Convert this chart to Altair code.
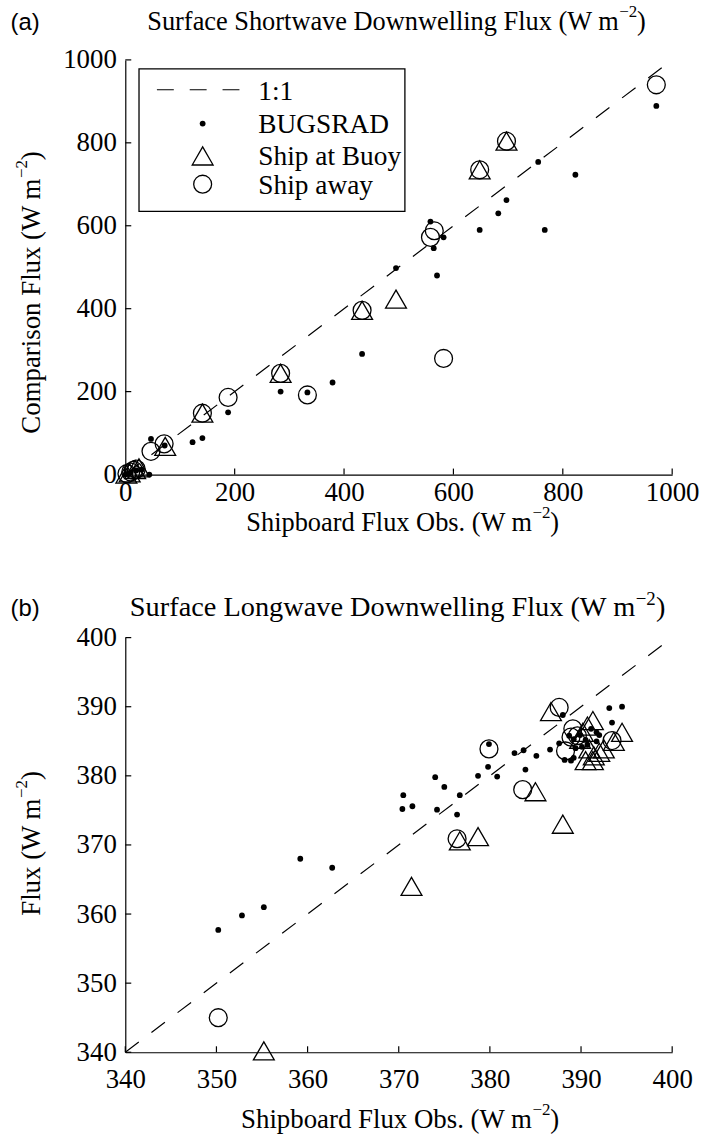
import altair as alt
import pandas as pd

# ---------------- Panel (a): shortwave ----------------
sw_dot_x = [971, 755, 823, 697, 682, 648, 767, 558, 582, 564, 570, 495, 433, 379, 333, 284, 188, 141, 123, 47, 44, 5, 20, 10, 72, 0, 30]
sw_dot_y = [889, 754, 723, 662, 630, 590, 590, 610, 572, 546, 480, 498, 291, 222, 198, 200, 150, 88, 78, 86, 0, 2, 10, 5, 70, 0, 12]
sw_tri_x = [697, 648, 495, 433, 284, 141, 73, 25, 18, 8, 2]
sw_tri_y = [804, 735, 423, 396, 244, 148, 68, 16, 12, 4, 1]
sw_cir_x = [971, 697, 648, 565, 558, 582, 433, 333, 284, 188, 141, 71, 47, 20, 10, 3, 15]
sw_cir_y = [940, 804, 735, 588, 572, 280, 396, 192, 244, 186, 148, 74, 56, 13, 6, 2, 10]
sw_ticks = [0, 200, 400, 600, 800, 1000]

# ---------------- Panel (b): longwave ----------------
lw_dot_x = [350.2, 352.8, 355.2, 359.2, 362.7, 370.5, 370.4, 371.5, 374.0, 375.0, 374.2, 376.7, 376.4,
            378.7, 379.8, 380.8, 379.9, 382.7, 383.7, 385.1, 383.9, 386.6, 388.0, 393.1, 394.5, 393.4,
            387.6, 388.2, 388.9, 388.7, 389.2, 389.9, 390.5, 391.1, 391.7, 392.0, 390.7, 389.4, 390.1,
            389.2, 391.7]
lw_dot_y = [357.7, 359.8, 361.0, 368.0, 366.7, 377.2, 375.2, 375.6, 379.8, 378.4, 375.1, 377.2, 374.4,
            380.0, 381.3, 379.9, 384.6, 383.3, 383.7, 382.9, 380.9, 383.8, 388.8, 389.8, 390.0, 387.7,
            384.7, 382.3, 382.2, 385.8, 385.3, 385.9, 385.2, 386.8, 386.3, 385.9, 384.5, 384.0, 384.2,
            382.6, 385.0]
lw_tri_x = [355.2, 371.4, 376.7, 378.7, 385.0, 388.0, 386.7, 391.3, 390.7, 394.5, 390.2, 390.9, 390.5,
            391.4, 392.0, 392.5, 391.3, 389.9, 393.6]
lw_tri_y = [340.2, 364.0, 370.6, 371.2, 377.7, 373.0, 389.3, 388.0, 387.2, 386.3, 386.3, 383.9, 382.2,
            382.9, 383.4, 383.9, 382.2, 385.3, 385.0]
lw_cir_x = [350.2, 376.4, 379.9, 383.6, 387.6, 389.1, 388.9, 388.3, 389.6, 393.4]
lw_cir_y = [345.0, 370.9, 383.9, 378.0, 389.9, 386.8, 385.6, 383.6, 385.8, 385.1]
lw_ticks = [340, 350, 360, 370, 380, 390, 400]

legend_labels = ["1:1", "BUGSRAD", "Ship at Buoy", "Ship away"]

SERIF = "Liberation Serif"
SANS = "Liberation Sans"
W, H = 550, 417
FS = 27
DASH = [17, 16]
DOT = 34
TRI = 441
CIR = 324


def text(t, x, y, size=FS, font=SERIF, align="left", angle=0, baseline="alphabetic"):
    kw = dict(align=align, baseline=baseline, font=font, fontSize=size, color="black")
    if angle:
        kw["angle"] = angle
    return alt.Chart(pd.DataFrame({"t": [t]})).mark_text(**kw).encode(
        text="t:N", x=alt.value(x), y=alt.value(y))


def sup_title_h(main, x_end, y, size, sup_size, raise_by, sup_w):
    # horizontal title: main text ending at x_end, superscript "-2", then ")"
    return [
        text(main, x_end, y, size=size, align="right"),
        text("\u22122", x_end + 0.5, y - raise_by, size=sup_size),
        text(")", x_end + 0.5 + sup_w, y, size=size),
    ]


def sup_title_v(main, x, y_end, size, sup_size, raise_by, sup_w):
    # vertical (rotated) title reading bottom to top, ending at y_end
    return [
        text(main, x, y_end, size=size, align="right", angle=270),
        text("\u22122", x - raise_by, y_end - 0.5, size=sup_size, angle=270),
        text(")", x, y_end - 0.5 - sup_w, size=size, angle=270),
    ]


def panel(dx, dy, tx, ty, cx, cy, ticks, tag, tag_y, title, ytitle, legend, xlab_pad, xt_y):
    lo, hi = ticks[0], ticks[-1]
    xs = alt.Scale(domain=[lo, hi], nice=False, zero=False)
    ys = alt.Scale(domain=[lo, hi], nice=False, zero=False)
    ax_common = dict(values=ticks, format="d", labelFont=SERIF, labelFontSize=FS, labelColor="black",
                     ticks=False, tickSize=0, grid=False, domain=True, domainColor="black",
                     domainWidth=1.2, title=None, labelFlush=False, labelOverlap=False)
    xa = alt.Axis(labelPadding=xlab_pad, **ax_common)
    ya = alt.Axis(labelPadding=9, **ax_common)

    one = alt.Chart(pd.DataFrame({"x": [lo, hi], "y": [lo, hi]})).mark_line(
        color="black", strokeWidth=1.2, strokeDash=DASH, clip=True).encode(
        x=alt.X("x:Q", scale=xs, axis=xa), y=alt.Y("y:Q", scale=ys, axis=ya))

    dots = alt.Chart(pd.DataFrame({"x": dx, "y": dy})).mark_circle(
        color="black", size=DOT, opacity=1).encode(x=alt.X("x:Q", scale=xs), y=alt.Y("y:Q", scale=ys))
    tris = alt.Chart(pd.DataFrame({"x": tx, "y": ty})).mark_point(
        shape="triangle-up", size=TRI, filled=False, color="black", strokeWidth=1.3, opacity=1).encode(
        x=alt.X("x:Q", scale=xs), y=alt.Y("y:Q", scale=ys))
    cirs = alt.Chart(pd.DataFrame({"x": cx, "y": cy})).mark_point(
        shape="circle", size=CIR, filled=False, color="black", strokeWidth=1.3, opacity=1).encode(
        x=alt.X("x:Q", scale=xs), y=alt.Y("y:Q", scale=ys))

    tdf = pd.DataFrame({"v": ticks})
    xticks = alt.Chart(tdf).mark_rule(color="black", strokeWidth=1.2).encode(
        x=alt.X("v:Q", scale=xs), y=alt.value(H), y2=alt.value(H - 6))
    yticks = alt.Chart(tdf).mark_rule(color="black", strokeWidth=1.2).encode(
        y=alt.Y("v:Q", scale=ys), x=alt.value(0), x2=alt.value(6))

    layers = [one, dots, tris, cirs, xticks, yticks]

    layers.append(text(tag, -115.5, tag_y, size=24, font=SANS))
    layers += sup_title_h(*title)
    layers += sup_title_h("Shipboard Flux Obs. (W m", *xt_y)
    layers += sup_title_v(*ytitle)

    if legend:
        lx0, lx1, ly0, ly1 = 13.8, 281.2, 9.0, 152.3
        sym_y = [30, 64, 96.6, 125]
        txt_y = [40.6, 73.3, 106, 135]
        sx = 77.8
        one_row = pd.DataFrame({"a": [0]})
        layers += [
            alt.Chart(one_row).mark_rect(fill="white", stroke="black", strokeWidth=1.3).encode(
                x=alt.value(lx0), x2=alt.value(lx1), y=alt.value(ly0), y2=alt.value(ly1)),
            alt.Chart(one_row).mark_rule(color="black", strokeWidth=1.2, strokeDash=DASH).encode(
                x=alt.value(31.8), x2=alt.value(115.8), y=alt.value(sym_y[0])),
            alt.Chart(one_row).mark_circle(color="black", size=DOT, opacity=1).encode(
                x=alt.value(sx), y=alt.value(sym_y[1])),
            alt.Chart(one_row).mark_point(shape="triangle-up", size=TRI, filled=False, color="black",
                                          strokeWidth=1.3, opacity=1).encode(
                x=alt.value(sx), y=alt.value(sym_y[2])),
            alt.Chart(one_row).mark_point(shape="circle", size=CIR, filled=False, color="black",
                                          strokeWidth=1.3, opacity=1).encode(
                x=alt.value(sx), y=alt.value(sym_y[3])),
        ]
        for lab, ty_ in zip(legend_labels, txt_y):
            layers.append(text(lab, 133.8, ty_, size=27.5))

    return alt.layer(*layers).properties(width=W, height=H)


pa = panel(sw_dot_x, sw_dot_y, sw_tri_x, sw_tri_y, sw_cir_x, sw_cir_y, sw_ticks, "(a)", -30,
           ("Surface Shortwave Downwelling Flux (W m", 496.2, -30, 26.5, 17, 12.7, 18),
           ("Comparison Flux (W m", -85.5, 119.3, 27, 17, 13, 18),
           True, 5, (409, 473.5, 26.5, 17, 12.7, 18))
pb = panel(lw_dot_x, lw_dot_y, lw_tri_x, lw_tri_y, lw_cir_x, lw_cir_y, lw_ticks, "(b)", -22,
           ("Surface Longwave Downwelling Flux (W m", 512.8, -21.7, 28.5, 19, 11.5, 20.5),
           ("Flux (W m", -85.5, 161.8, 27, 17, 13, 18),
           False, 14, (409, 493, 27, 17, 12.7, 18))

chart = alt.vconcat(pa, pb, spacing=164, bounds="flush").configure_view(stroke=None).properties(
    padding={"left": 10, "top": 0, "right": 5, "bottom": 5})

chart.save("out.html", embed_options={"renderer": "svg", "actions": False})
